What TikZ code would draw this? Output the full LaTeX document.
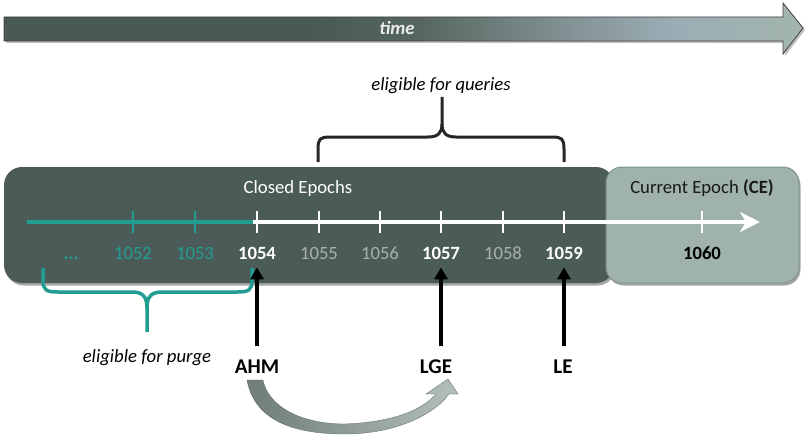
\documentclass[tikz,border=0pt]{standalone}
\usepackage{fontspec}
\setmainfont{Carlito}
\usetikzlibrary{arrows.meta,shadows}
\definecolor{boxdark}{HTML}{4A5B58}
\definecolor{boxlight}{HTML}{A0B2AC}
\definecolor{boxlightedge}{HTML}{7F948F}
\definecolor{tealc}{HTML}{229D92}
\definecolor{grayl}{HTML}{A9B0AE}
\definecolor{tA}{HTML}{485956}
\definecolor{tB}{HTML}{56665F}
\definecolor{tC}{HTML}{7D8D8E}
\definecolor{tD}{HTML}{9CADB6}
\definecolor{tE}{HTML}{A3B5AD}
\definecolor{arrL}{HTML}{6E7C7A}
\definecolor{arrR}{HTML}{B3BFBB}
\pgfdeclarehorizontalshading{timeshade}{100bp}{color(0bp)=(tA); color(25bp)=(tA); color(44bp)=(tA); color(51bp)=(tB); color(59bp)=(tC); color(67bp)=(tD); color(75bp)=(tE); color(100bp)=(tE)}
\newcommand\fsz{\fontsize{18.7}{22}\selectfont}
\newcommand\fbig{\fontsize{21}{25}\selectfont}
\begin{document}
\begin{tikzpicture}[x=1pt,y=-1pt,
  lab/.style={anchor=base, inner sep=0pt, font=\fsz},
  biglab/.style={anchor=base, inner sep=0pt, font=\fbig\bfseries},
  tealtick/.style={draw=tealc, line width=2.5pt},
  whitetick/.style={draw=white, line width=2.5pt},
  ptr/.style={draw=black, line width=4pt, -{Triangle[length=12pt,width=13pt]}},
  shade1/.style={drop shadow={shadow xshift=1.5pt, shadow yshift=-2.5pt, opacity=0.35, fill=black}}
]
\useasboundingbox (0,0) rectangle (809,436);

% time arrow
\path[fill=black, opacity=0.25] (6,19) -- (785,19) -- (785,5) -- (805,30) -- (785,56) -- (785,43) -- (6,43) -- cycle;
\path[shading=timeshade, draw=black!75, line width=0.8pt]
  (4,17) -- (783,17) -- (783,3) -- (803,28) -- (783,54) -- (783,41) -- (4,41) -- cycle;
\node[anchor=base, inner sep=0pt, font=\fsz\bfseries\itshape, text=white!92!black] (time) at (397,35) {time};

% boxes
\path[shade1, fill=boxdark, rounded corners=18pt] (4,167) rectangle (614,283);
\path[shade1, fill=boxlight, draw=boxlightedge, line width=1pt, rounded corners=16pt] (606,167) rectangle (799,283);
\node[lab, text=white] (closed) at (298,193) {Closed Epochs};
\node[lab, text=black!90] (current) at (702,193) {Current Epoch \textbf{(CE)}};

% timeline
\draw[draw=tealc, line width=4pt] (27,222) -- (253,222);
\draw[draw=white, line width=3.5pt, -{Stealth[length=20pt,width=20pt,inset=6pt]}] (253,222) -- (760,222);
\foreach \x in {133,195} \draw[tealtick] (\x,211) -- (\x,233);
\foreach \x in {257,319,380,441,503,564,702} \draw[whitetick] (\x,211) -- (\x,233);

% labels
\node[lab, text=tealc, font=\fsz\bfseries] (dots) at (71,259) {...};
\node[lab, text=tealc] (n1052) at (133,259) {1052};
\node[lab, text=tealc] (n1053) at (195,259) {1053};
\node[lab, text=white, font=\fsz\bfseries] (n1054) at (257,259) {1054};
\node[lab, text=grayl] (n1055) at (319,259) {1055};
\node[lab, text=grayl] (n1056) at (380,259) {1056};
\node[lab, text=white, font=\fsz\bfseries] (n1057) at (441,259) {1057};
\node[lab, text=grayl] (n1058) at (503,259) {1058};
\node[lab, text=white, font=\fsz\bfseries] (n1059) at (564,259) {1059};
\node[lab, text=black, font=\fsz\bfseries] (n1060) at (702,259) {1060};

% queries brace
\draw[black!85, line width=3pt]
  (318,162) -- (318,149) .. controls (318,139) and (320,137) .. (330,137) -- (428,137)
  .. controls (438,137) and (442,133) .. (442,124) -- (442,97);
\draw[black!85, line width=3pt]
  (564,162) -- (564,149) .. controls (564,139) and (562,137) .. (552,137) -- (456,137)
  .. controls (446,137) and (442,133) .. (442,124);
\node[lab, font=\fsz\itshape] (queries) at (441,91) {eligible for queries};

% purge brace
\draw[tealc, line width=3.5pt]
  (43,268) -- (43,280) .. controls (43,290) and (46,292) .. (58,292) -- (132,292)
  .. controls (143,292) and (147,297) .. (147,308) -- (147,332);
\draw[tealc, line width=3.5pt]
  (252,268) -- (252,280) .. controls (252,290) and (249,292) .. (237,292) -- (162,292)
  .. controls (151,292) and (147,297) .. (147,308);
\node[lab, font=\fsz\itshape] (purge) at (147,362) {eligible for purge};

% pointers
\node[biglab] (ahm) at (257,373) {AHM};
\node[biglab] (lge) at (436,373) {LGE};
\node[biglab] (le) at (563,373) {LE};
\draw[ptr] ([yshift=13.5pt]ahm.north) -- ([yshift=-8pt]n1054.south);
\draw[ptr] ([xshift=5pt,yshift=13.5pt]lge.north) -- ([yshift=-8pt]n1057.south);
\draw[ptr] ([xshift=1pt,yshift=13.5pt]le.north) -- ([yshift=-8pt]n1059.south);

% curved arrow
\path[left color=arrL, right color=arrR, draw=arrL!80!black, line width=0.3pt]
  (247,380) .. controls (255,424) and (300,434) .. (345,434)
  .. controls (393,434) and (433,416) .. (449,394) -- (458,394) -- (448,379) -- (426,394) -- (436,394)
  .. controls (420,412) and (390,422) .. (345,424)
  .. controls (300,424) and (268,406) .. (263,380) -- cycle;
\end{tikzpicture}
\end{document}
